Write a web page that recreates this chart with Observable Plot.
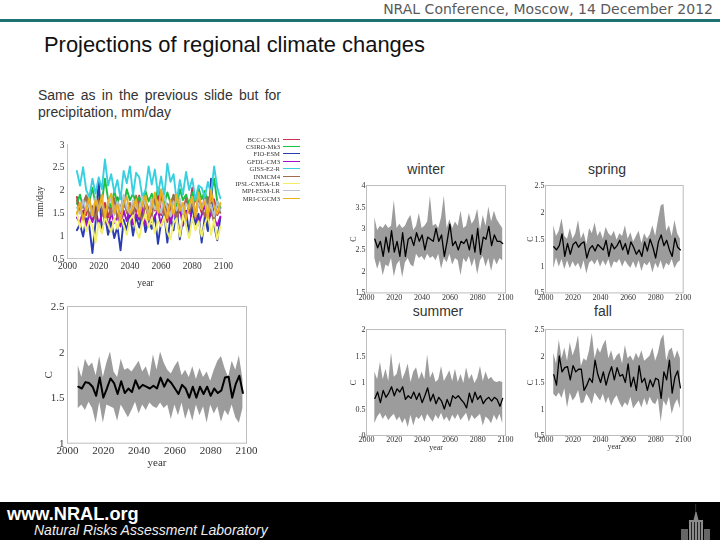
<!DOCTYPE html>
<html><head><meta charset="utf-8">
<script src="https://cdn.jsdelivr.net/npm/d3@7"></script>
<script src="https://cdn.jsdelivr.net/npm/@observablehq/plot@0.6"></script>
<style>
html,body{margin:0;padding:0;background:#fff;}
#page{position:relative;width:720px;height:540px;overflow:hidden;background:#fff;font-family:"Liberation Sans",sans-serif;}
#page>*{position:absolute;}
.chart{filter:blur(0.5px);overflow:visible;}
.lbl{font-size:14px;color:#333;transform:translateX(-50%);white-space:nowrap;line-height:16px;}
.leg{font:6.6px/7px "Liberation Serif",serif;color:#333;filter:blur(0.3px);white-space:nowrap;}
</style></head><body><div id="page">
<div style="left:0;right:7px;top:1px;text-align:right;font:14px/17px 'DejaVu Sans',sans-serif;color:#5a5a5a;">NRAL Conference, Moscow, 14 December 2012</div>
<div style="left:0;top:18.5px;width:720px;height:3.5px;background:#1f7272;"></div>
<div style="left:44px;top:33px;font-size:21.9px;line-height:24px;color:#111;white-space:nowrap;">Projections of regional climate changes</div>
<div style="left:38px;top:87px;width:243px;font-size:14px;line-height:17px;color:#333;text-align:justify;text-align-last:justify;">Same as in the previous slide but for</div>
<div style="left:38px;top:104px;font-size:14px;line-height:17px;color:#333;white-space:nowrap;">precipitation, mm/day</div>
<div class="lbl" style="left:426px;top:161px;">winter</div>
<div class="lbl" style="left:607px;top:161px;">spring</div>
<div class="lbl" style="left:438px;top:303px;">summer</div>
<div class="lbl" style="left:603px;top:303px;">fall</div>
<div style="left:0;top:502px;width:720px;height:38px;background:#000;"></div>
<div style="left:7px;top:504px;color:#fff;font-size:18.2px;font-weight:bold;line-height:20px;white-space:nowrap;">www.NRAL.org</div>
<div style="left:34px;top:522px;color:#eee;font-size:14px;font-style:italic;line-height:17px;white-space:nowrap;">Natural Risks Assessment Laboratory</div>
<svg style="left:680px;top:502px;" width="30" height="38" viewBox="0 0 30 38">
<path d="M15.5 2h.6v9h-.6z" fill="#555"/><path d="M13.5 18l2-8h1l2 8z" fill="#888"/>
<path d="M9 38V18h14v20z" fill="#8a8a8a"/><path d="M11 20h1v18h-1zM14 20h1v18h-1zM17 20h1v18h-1zM20 20h1v18h-1z" fill="#222"/>
<path d="M1 38V27h7v11zM24 38V27h6v11z" fill="#666"/>
</svg>
</div>
<script>
const years = d3.range(2006, 2099, 2);
const decadeTicks = d3.range(2000, 2101, 20);

const models = ["BCC-CSM1","CSIRO-Mk3","FIO-ESM","GFDL-CM3","GISS-E2-R","INMCM4","IPSL-CM5A-LR","MPI-ESM-LR","MRI-CGCM3"];
const modelColors = ["#c8324e","#1cc040","#2a3cb4","#a010c8","#38d0e0","#a06c50","#f2f06a","#b4c4d4","#eab01e"];

const seriesBCC = [1.85,1.55,1.70,1.45,1.78,1.38,1.62,1.80,1.50,1.72,
 1.40,1.66,1.48,1.84,1.35,1.70,1.56,1.30,1.75,1.52,
 1.88,1.42,1.68,1.36,1.80,1.55,1.95,1.45,1.72,1.30,
 1.62,1.90,1.48,1.70,1.38,1.82,1.55,2.05,1.42,1.75,
 1.50,1.88,1.35,1.68,1.80,1.45,1.60];
const seriesCSIRO = [1.70,1.90,1.62,1.88,1.75,2.05,1.68,1.95,1.72,2.25,
 1.80,1.62,1.98,1.72,1.90,1.65,2.02,1.78,1.92,1.70,
 1.85,1.65,1.98,1.75,1.92,1.68,2.05,1.82,1.70,1.95,
 1.72,1.88,1.62,2.02,1.78,1.90,1.68,1.95,1.75,2.05,
 1.80,1.98,1.72,1.90,2.25,1.75,1.62];
const seriesFIO = [1.12,1.25,0.98,1.38,1.20,0.62,1.30,2.20,1.08,1.45,
 1.02,1.30,0.95,1.20,0.68,1.35,1.12,1.50,1.00,1.42,
 1.18,1.55,1.08,1.35,1.15,1.45,0.82,1.30,1.50,0.85,
 1.42,1.12,1.62,0.92,1.38,1.55,1.02,1.68,1.25,1.48,
 0.85,1.42,1.10,2.25,1.22,0.90,1.40];
const seriesGFDL = [1.40,1.28,1.55,1.22,1.48,1.30,1.58,1.25,1.45,1.62,
 1.18,1.50,1.28,1.42,1.20,1.55,1.32,1.60,1.25,1.48,
 1.35,1.62,1.22,1.50,1.30,1.42,1.58,1.20,1.45,1.68,
 1.28,1.52,1.35,1.60,1.22,1.48,1.62,1.30,1.55,1.25,
 1.45,1.68,1.28,1.50,1.38,1.22,1.42];
const seriesGISS = [2.42,2.10,2.50,2.00,1.85,2.25,1.92,2.28,2.02,2.67,
 2.10,2.35,1.95,2.22,1.80,2.42,2.15,2.52,1.90,2.38,
 2.28,1.85,2.00,2.52,2.12,2.45,1.90,2.30,1.85,2.58,
 2.18,2.35,1.75,2.22,1.90,2.40,2.00,2.25,1.78,2.10,
 2.05,1.85,2.18,1.92,2.52,2.05,1.82];
const seriesINM = [1.78,1.50,1.72,1.88,1.42,1.65,1.35,1.78,1.58,1.30,
 1.70,1.45,1.82,1.38,1.62,1.85,1.50,1.72,1.40,1.88,
 1.55,1.30,1.75,1.60,1.42,1.85,1.52,1.98,1.40,1.70,
 1.58,1.88,1.35,1.65,1.45,1.82,1.50,1.72,1.38,1.90,
 1.62,1.42,1.85,1.55,1.30,1.72,1.50];
const seriesIPSL = [1.52,1.18,1.40,1.10,1.32,1.22,0.85,1.28,1.05,1.42,
 1.25,1.08,1.38,1.15,1.45,1.22,1.02,1.35,1.45,1.12,
 0.95,1.30,1.48,1.18,1.40,1.05,1.32,1.20,1.42,1.08,
 0.92,1.28,1.38,0.98,1.45,1.22,0.95,1.40,1.12,1.32,
 0.98,1.25,1.45,1.02,1.35,0.92,1.20];
const seriesMPI = [1.62,1.48,1.78,1.55,1.70,1.42,1.85,1.58,1.72,1.50,
 1.68,1.82,1.45,1.75,1.55,1.90,1.60,1.48,1.78,1.62,
 1.52,1.85,1.68,1.45,1.80,1.58,1.72,1.50,1.88,1.62,
 1.42,1.75,1.55,1.82,1.48,1.70,1.60,1.85,1.45,1.72,
 1.58,1.80,1.50,1.68,1.42,1.75,1.55];
const seriesMRI = [1.48,1.72,1.35,1.60,1.82,1.45,1.78,1.55,1.90,1.40,
 1.75,1.92,1.50,1.68,1.30,1.72,1.85,1.48,1.62,1.80,
 1.42,1.70,1.88,1.35,1.65,1.95,1.50,2.02,1.62,1.38,
 1.78,1.45,1.90,1.55,1.72,1.35,1.68,1.85,1.42,1.95,
 1.58,1.75,1.38,2.00,1.62,1.48,1.72];
const modelSeries = [seriesBCC,seriesCSIRO,seriesFIO,seriesGFDL,seriesGISS,seriesINM,seriesIPSL,seriesMPI,seriesMRI];

const annualHi = [1.85,1.72,1.92,1.84,1.88,1.74,1.95,1.72,1.88,2.00,
 1.78,1.72,1.92,1.80,1.82,1.78,1.84,1.90,1.78,1.84,
 1.72,1.97,1.80,2.00,1.88,1.80,1.76,1.84,1.90,1.74,
 1.80,1.72,1.84,1.70,1.82,1.72,1.78,1.68,1.80,1.90,
 1.95,1.82,1.72,1.90,1.80,1.96,1.70];
const annualLo = [1.38,1.42,1.36,1.45,1.38,1.22,1.45,1.22,1.42,1.40,
 1.38,1.24,1.42,1.35,1.28,1.36,1.45,1.32,1.42,1.36,
 1.44,1.40,1.38,1.44,1.38,1.42,1.26,1.42,1.30,1.44,
 1.26,1.38,1.24,1.42,1.30,1.40,1.22,1.42,1.32,1.40,
 1.23,1.36,1.30,1.42,1.28,1.22,1.38];
const annualMean = [1.62,1.60,1.67,1.66,1.62,1.52,1.72,1.50,1.60,1.71,
 1.66,1.54,1.68,1.55,1.60,1.56,1.69,1.60,1.64,1.62,
 1.60,1.63,1.60,1.72,1.62,1.70,1.66,1.60,1.54,1.64,
 1.60,1.50,1.62,1.50,1.62,1.54,1.62,1.52,1.60,1.55,
 1.58,1.72,1.73,1.50,1.65,1.74,1.55];

const winterHi = [3.25,2.95,3.05,3.00,3.10,3.00,3.05,3.65,3.00,3.10,
 3.00,3.05,3.20,3.30,2.95,3.05,3.35,3.00,3.05,3.15,
 3.75,3.05,3.10,3.00,3.25,3.75,3.00,3.20,3.00,3.15,
 3.05,3.40,3.00,3.05,3.35,3.10,3.20,3.45,2.95,3.30,
 3.05,3.50,3.15,3.40,3.20,3.10,3.00];
const winterLo = [2.30,2.05,2.25,1.90,2.15,2.10,2.30,1.87,2.15,2.25,
 1.85,2.20,2.30,2.15,2.10,2.40,2.30,2.35,2.25,2.40,
 2.30,2.35,2.25,2.40,2.05,2.30,2.20,2.40,2.15,2.30,
 2.25,1.90,2.30,2.20,2.35,2.10,2.30,1.92,2.25,2.35,
 2.10,2.30,2.00,2.30,2.15,2.30,2.25];
const winterMean = [2.75,2.55,2.70,2.35,2.80,2.45,2.95,2.45,2.70,2.35,
 2.90,2.35,2.75,2.80,2.60,2.90,2.70,2.85,2.50,2.80,
 2.75,2.70,3.00,2.70,2.85,2.35,2.70,3.10,2.60,2.70,
 2.50,2.70,2.65,2.75,2.50,2.85,2.45,3.00,2.40,2.80,
 2.75,3.05,2.60,2.85,2.70,2.70,2.65];

const springHi = [1.75,1.55,1.65,1.88,1.55,1.50,1.70,1.50,1.60,1.85,
 1.50,1.62,1.40,1.70,1.60,1.80,1.55,1.65,1.50,1.72,
 1.60,1.55,1.65,1.48,1.60,1.55,1.75,1.50,1.62,1.45,
 1.55,1.65,1.42,1.60,1.50,1.58,1.75,1.55,1.85,2.12,
 2.15,1.65,1.75,1.55,1.85,1.60,1.50];
const springLo = [0.95,1.15,0.98,1.12,0.93,1.10,0.95,1.08,0.98,1.05,
 0.92,1.10,0.85,1.05,1.10,1.02,1.12,0.98,1.10,1.00,
 1.12,0.95,1.08,1.05,1.12,0.98,1.10,1.02,0.96,1.08,
 0.95,1.10,0.90,1.05,1.00,1.08,0.87,1.05,0.95,1.10,
 0.92,1.05,1.00,1.12,0.95,1.05,1.10];
const springMean = [1.36,1.30,1.38,1.60,1.18,1.42,1.22,1.40,1.45,1.35,
 1.42,1.45,1.15,1.32,1.38,1.28,1.40,1.35,1.30,1.48,
 1.18,1.42,1.32,1.38,1.48,1.30,1.42,1.22,1.45,1.35,
 1.22,1.30,1.18,1.45,1.28,1.50,1.35,1.15,1.45,1.58,
 1.38,1.48,1.30,1.18,1.52,1.35,1.30];

const summerHi = [1.20,1.05,1.38,1.05,1.25,1.02,1.55,1.10,1.15,1.38,
 1.05,1.18,1.35,1.00,1.20,1.28,1.05,1.20,1.05,1.52,
 1.08,1.20,1.00,1.05,1.30,1.02,1.12,1.22,1.02,1.25,
 1.00,1.15,0.98,1.28,1.05,1.15,0.98,1.08,1.30,1.02,
 1.20,1.05,1.10,1.02,1.00,1.02,1.00];
const summerLo = [0.22,0.35,0.42,0.30,0.38,0.28,0.35,0.40,0.28,0.35,
 0.22,0.32,0.15,0.38,0.18,0.35,0.30,0.38,0.25,0.40,
 0.32,0.25,0.38,0.30,0.42,0.28,0.35,0.25,0.38,0.30,
 0.40,0.28,0.35,0.42,0.25,0.38,0.30,0.35,0.40,0.18,
 0.35,0.30,0.22,0.38,0.28,0.40,0.22];
const summerMean = [0.70,0.82,0.62,0.85,0.72,0.80,0.92,0.75,0.88,0.82,
 0.92,0.68,0.75,0.70,0.82,0.68,0.80,0.62,0.75,0.90,
 0.65,0.78,0.60,0.72,0.65,0.50,0.68,0.55,0.75,0.70,
 0.75,0.68,0.62,0.52,0.80,0.62,0.82,0.68,0.75,0.60,
 0.68,0.72,0.65,0.72,0.68,0.55,0.70];

const fallHi = [2.05,1.85,2.30,1.95,2.15,1.90,2.25,2.00,2.15,2.38,
 1.80,1.95,1.90,2.10,2.43,1.95,2.15,2.05,2.20,2.30,
 1.95,2.10,1.90,2.00,2.05,1.85,2.20,1.95,2.00,1.90,
 2.05,1.95,2.10,1.90,1.95,2.00,2.15,1.90,2.05,2.30,
 2.40,1.90,2.10,2.15,1.95,2.10,1.95];
const fallLo = [1.28,1.22,1.30,1.20,1.38,1.02,1.30,1.15,1.22,1.35,
 1.10,1.12,1.28,1.20,1.08,1.30,1.22,1.15,1.28,1.10,
 1.22,1.05,1.18,1.25,1.12,1.02,1.12,1.05,1.22,1.00,
 1.08,1.15,1.02,1.20,1.05,1.22,1.12,1.08,1.20,0.75,
 1.15,1.05,1.22,0.90,1.08,1.18,1.00];
const fallMean = [1.65,1.45,2.00,1.70,1.78,1.80,1.55,1.82,1.70,1.75,
 1.75,1.35,1.45,1.58,1.50,1.92,1.65,1.50,1.70,1.45,
 1.65,1.80,1.55,1.78,1.62,1.65,1.50,1.85,1.42,1.60,
 1.35,1.82,1.50,1.58,1.35,1.55,1.42,1.58,1.55,1.20,
 1.70,1.55,1.92,1.30,1.60,1.72,1.40];

const page = document.getElementById("page");

function place(svg, left, top){
  svg.classList.add("chart");
  svg.style.left = left + "px";
  svg.style.top = top + "px";
  page.appendChild(svg);
}

function bandPanel(o){
  const rows = years.map((year,i)=>({year, hi:o.hi[i], lo:o.lo[i], mean:o.mean[i]}));
  const mL=34, mR=12, mT=8, mB=o.mB;
  const w=o.x1-o.x0, h=o.y1-o.y0;
  const svg = Plot.plot({
    width:w+mL+mR, height:h+mT+mB,
    marginLeft:mL, marginRight:mR, marginTop:mT, marginBottom:mB,
    style:{fontFamily:"'Liberation Serif',serif", fontSize:o.fs+"px", color:"#333", background:"transparent", overflow:"visible"},
    x:{domain:[2000,2100]},
    y:{domain:o.domain},
    marks:[
      Plot.frame({stroke:"#bdbdbd", strokeWidth:o.fw||1}),
      Plot.areaY(rows,{x:"year",y1:"lo",y2:"hi",fill:"#9c9c9c"}),
      Plot.lineY(rows,{x:"year",y:"mean",stroke:"#000",strokeWidth:o.lw,curve:"linear"}),
      Plot.axisX({ticks:decadeTicks,tickSize:0,tickPadding:o.xp,tickFormat:"d",label:"year"===o.xl?"year":null,labelAnchor:"center",labelOffset:o.xo,labelArrow:"none"}),
      Plot.axisY({ticks:o.ticks,tickSize:0,tickPadding:o.yp,tickFormat:d=>String(d),label:"C",labelAnchor:"center",labelOffset:o.yo,labelArrow:"none"})
    ]
  });
  place(svg, o.x0-mL, o.y0-mT);
}

// multi-model panel
(function(){
  const rows = models.flatMap((model,k)=>years.map((year,i)=>({model,year,value:modelSeries[k][i]})));
  const x0=66.7,x1=222.7,y0=144,y1=258, mL=34,mR=12,mT=8,mB=34;
  const svg = Plot.plot({
    width:x1-x0+mL+mR, height:y1-y0+mT+mB,
    marginLeft:mL, marginRight:mR, marginTop:mT, marginBottom:mB,
    style:{fontFamily:"'Liberation Serif',serif", fontSize:"9.5px", color:"#333", background:"transparent", overflow:"visible"},
    x:{domain:[2000,2100]},
    y:{domain:[0.5,3]},
    color:{domain:models, range:modelColors},
    marks:[
      Plot.ruleX([2000],{stroke:"#c4c4c4"}),
      Plot.ruleY([0.5],{stroke:"#c4c4c4"}),
      ...models.map(m=>Plot.lineY(rows.filter(r=>r.model===m),{x:"year",y:"value",stroke:"model",strokeWidth:1.9})),
      Plot.axisX({ticks:decadeTicks,tickSize:0,tickPadding:4,tickFormat:"d",label:"year",labelAnchor:"center",labelOffset:27,labelArrow:"none"}),
      Plot.axisY({ticks:[0.5,1,1.5,2,2.5,3],tickSize:0,tickPadding:3,tickFormat:d=>String(d),label:"mm/day",labelAnchor:"center",labelOffset:31,labelArrow:"none"})
    ]
  });
  place(svg,x0-mL,y0-mT);
  models.forEach((m,k)=>{
    const top = 135.5 + k*7.4;
    const t=document.createElement("div");
    t.className="leg"; t.textContent=m;
    t.style.cssText=`right:${720-280}px;top:${top}px;`;
    page.appendChild(t);
    const l=document.createElement("div");
    l.style.cssText=`left:283px;top:${Math.round(top+3)}px;width:17px;height:1px;background:${modelColors[k]};`;
    page.appendChild(l);
  });
})();

bandPanel({x0:66.7,x1:245.7,y0:306,y1:442.7,mB:30,domain:[1,2.5],ticks:[1,1.5,2,2.5],hi:annualHi,lo:annualLo,mean:annualMean,fs:11,lw:2,xp:3,yp:3,xl:"year",xo:23,yo:23});
bandPanel({x0:366,x1:505,y0:185.3,y1:292.7,mB:16,domain:[1.5,4],ticks:[1.5,2,2.5,3,3.5,4],hi:winterHi,lo:winterLo,mean:winterMean,fs:8,lw:1.3,xp:1,yp:1,xl:null,xo:12,yo:16});
bandPanel({x0:545.3,x1:683,y0:185.3,y1:292.7,mB:16,domain:[0.5,2.5],ticks:[0.5,1,1.5,2,2.5],hi:springHi,lo:springLo,mean:springMean,fs:8,lw:1.3,xp:1,yp:1,xl:null,xo:12,yo:18});
bandPanel({x0:366,x1:505,y0:329,y1:435,mB:20,domain:[0,2],ticks:[0,0.5,1,1.5,2],hi:summerHi,lo:summerLo,mean:summerMean,fs:8,lw:1.3,xp:1,yp:1,xl:"year",xo:14,yo:16});
bandPanel({x0:545.3,x1:683,y0:329,y1:435,mB:20,domain:[0.5,2.5],ticks:[0.5,1,1.5,2,2.5],hi:fallHi,lo:fallLo,mean:fallMean,fs:8,lw:1.3,xp:1,yp:1,xl:"year",xo:14,yo:18});
</script>
</body></html>
